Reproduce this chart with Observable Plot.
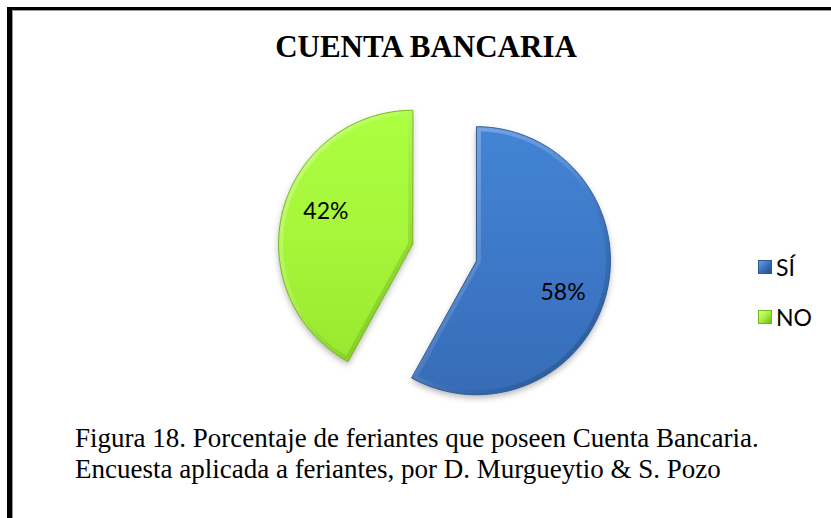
<!DOCTYPE html>
<html>
<head>
<meta charset="utf-8">
<script src="https://cdn.jsdelivr.net/npm/d3@7"></script>
<script src="https://cdn.jsdelivr.net/npm/@observablehq/plot@0.6"></script>
<style>
  html, body { margin: 0; padding: 0; background: #fff; }
  #page { position: relative; width: 831px; height: 518px; overflow: hidden; background: #fff; }
  #frameTop { position: absolute; left: 7px; top: 7px; width: 824px; height: 3px; background: #000; }
  #frameTopIn { position: absolute; left: 12px; top: 10px; width: 819px; height: 1px; background: #9a9a9a; }
  #frameLeft { position: absolute; left: 7px; top: 7px; width: 5px; height: 511px; background: #000; }
  #frameLeftIn { position: absolute; left: 12px; top: 10px; width: 1px; height: 508px; background: #9a9a9a; }
  #title { position: absolute; left: 0; width: 852px; top: 29px; text-align: center;
           font-family: "Liberation Serif", "Times New Roman", serif; font-weight: bold; font-size: 31px; color: #000; }
  #chart { position: absolute; left: 248.5px; top: 96.5px; }
  #legend { position: absolute; left: 758px; top: 254px; font-family: Lato, "Noto Sans", sans-serif; font-size: 23px; color: #000; }
  .item { display: flex; align-items: center; height: 26px; margin-bottom: 24px; }
  .sw { width: 14px; height: 14px; margin-right: 4px; box-sizing: border-box; }
  #caption { position: absolute; left: 75px; top: 423px; font-family: "Liberation Serif", "Times New Roman", serif;
             font-size: 27px; line-height: 31px; color: #000; white-space: nowrap; }
</style>
</head>
<body>
<div id="page">
  <div id="frameTop"></div><div id="frameTopIn"></div>
  <div id="frameLeft"></div><div id="frameLeftIn"></div>
  <div id="title">CUENTA BANCARIA</div>
  <div id="chart"></div>
  <div id="legend"></div>
  <div id="caption">Figura 18. Porcentaje de feriantes que poseen Cuenta Bancaria.<br>Encuesta aplicada a feriantes, por D. Murgueytio &amp; S. Pozo</div>
</div>
<script>
// ---- data ----
const categories = ["SÍ", "NO"];
const values = [58, 42];
const labels = ["58%", "42%"];
const fills = ["url(#gBlue)", "url(#gGreen)"];
const edges = ["#2c5a97", "#78b51e"];
const swatches = ["linear-gradient(135deg, #6aa0e0, #3a72bd 50%, #244f8c)", "linear-gradient(135deg, #d2ff8a, #a6f03c 50%, #74b51a)"];

// ---- geometry derived from the data ----
const total = d3.sum(values);
const explode = 0.246;
const labelRadius = 0.69, labelTurn = 6 * Math.PI / 180;
let acc = 0;
const slices = categories.map((c, i) => {
  const a0 = acc / total * 2 * Math.PI;
  acc += values[i];
  const a1 = acc / total * 2 * Math.PI;
  const mid = (a0 + a1) / 2;
  const cx = explode * Math.sin(mid), cy = explode * Math.cos(mid);
  const pts = [{x: cx, y: cy}];
  const n = Math.ceil((a1 - a0) / (Math.PI / 180));
  for (let k = 0; k <= n; k++) {
    const a = a0 + (a1 - a0) * k / n;
    pts.push({x: cx + Math.sin(a), y: cy + Math.cos(a)});
  }
  const la = mid + labelTurn;
  return {cat: c, pts, fill: fills[i], edge: edges[i],
          label: {x: cx + labelRadius * Math.sin(la), y: cy + labelRadius * Math.cos(la), text: labels[i]}};
});

const W = 390, H = 310, R = 134;
const plot = Plot.plot({
  width: W, height: H, margin: 0,
  x: {domain: [-W / 2 / R, W / 2 / R], axis: null},
  y: {domain: [-H / 2 / R, H / 2 / R], axis: null},
  marks: [
    ...slices.map(s => Plot.line(s.pts, {x: "x", y: "y", curve: "linear-closed",
      fill: s.fill, stroke: "none"})),
    ...slices.map(s => Plot.line(s.pts, {x: "x", y: "y", curve: "linear-closed",
      fill: "none", stroke: "url(#rim)", strokeWidth: 9})),
    ...slices.map(s => Plot.line(s.pts, {x: "x", y: "y", curve: "linear-closed",
      fill: "none", stroke: s.edge, strokeWidth: 1})),
    Plot.text(slices.map(s => s.label), {x: "x", y: "y", text: "text",
      fontSize: 23, fontFamily: "Lato, 'Noto Sans', sans-serif", fill: "#000"})
  ]
});
plot.insertAdjacentHTML("afterbegin", `
<defs>
  <linearGradient id="gBlue" x1="0" y1="0" x2="0" y2="1">
    <stop offset="0" stop-color="#4484d4"/>
    <stop offset="0.5" stop-color="#3d78c8"/>
    <stop offset="1" stop-color="#366cb6"/>
  </linearGradient>
  <linearGradient id="gGreen" x1="0" y1="0" x2="0" y2="1">
    <stop offset="0" stop-color="#acff40"/>
    <stop offset="0.5" stop-color="#a6f63a"/>
    <stop offset="1" stop-color="#98e830"/>
  </linearGradient>
  <linearGradient id="rim" x1="0" y1="0" x2="1" y2="1">
    <stop offset="0" stop-color="#ffffff" stop-opacity="0.35"/>
    <stop offset="0.45" stop-color="#ffffff" stop-opacity="0.12"/>
    <stop offset="0.7" stop-color="#000000" stop-opacity="0.08"/>
    <stop offset="1" stop-color="#000000" stop-opacity="0.25"/>
  </linearGradient>
  <filter id="shadow" x="-20%" y="-20%" width="140%" height="140%">
    <feDropShadow dx="0" dy="3" stdDeviation="3" flood-color="#000" flood-opacity="0.3"/>
  </filter>
</defs>`);
const defs = plot.querySelector("defs");
const groups = plot.querySelectorAll("g[aria-label='line']");
const k = slices.length;
slices.forEach((s, i) => {
  const body = groups[i];
  if (!body) return;
  body.setAttribute("filter", "url(#shadow)");
  const path = body.querySelector("path");
  if (!path) return;
  const cp = document.createElementNS("http://www.w3.org/2000/svg", "clipPath");
  cp.setAttribute("id", "clip" + i);
  const p = document.createElementNS("http://www.w3.org/2000/svg", "path");
  p.setAttribute("d", path.getAttribute("d"));
  cp.appendChild(p);
  defs.appendChild(cp);
  if (groups[k + i]) groups[k + i].setAttribute("clip-path", `url(#clip${i})`);
});
document.getElementById("chart").appendChild(plot);

const legend = document.getElementById("legend");
categories.forEach((c, i) => {
  const item = document.createElement("div");
  item.className = "item";
  item.innerHTML = `<div class="sw" style="background:${swatches[i]};border:1px solid ${edges[i]}"></div><span>${c}</span>`;
  legend.appendChild(item);
});
</script>
</body>
</html>
